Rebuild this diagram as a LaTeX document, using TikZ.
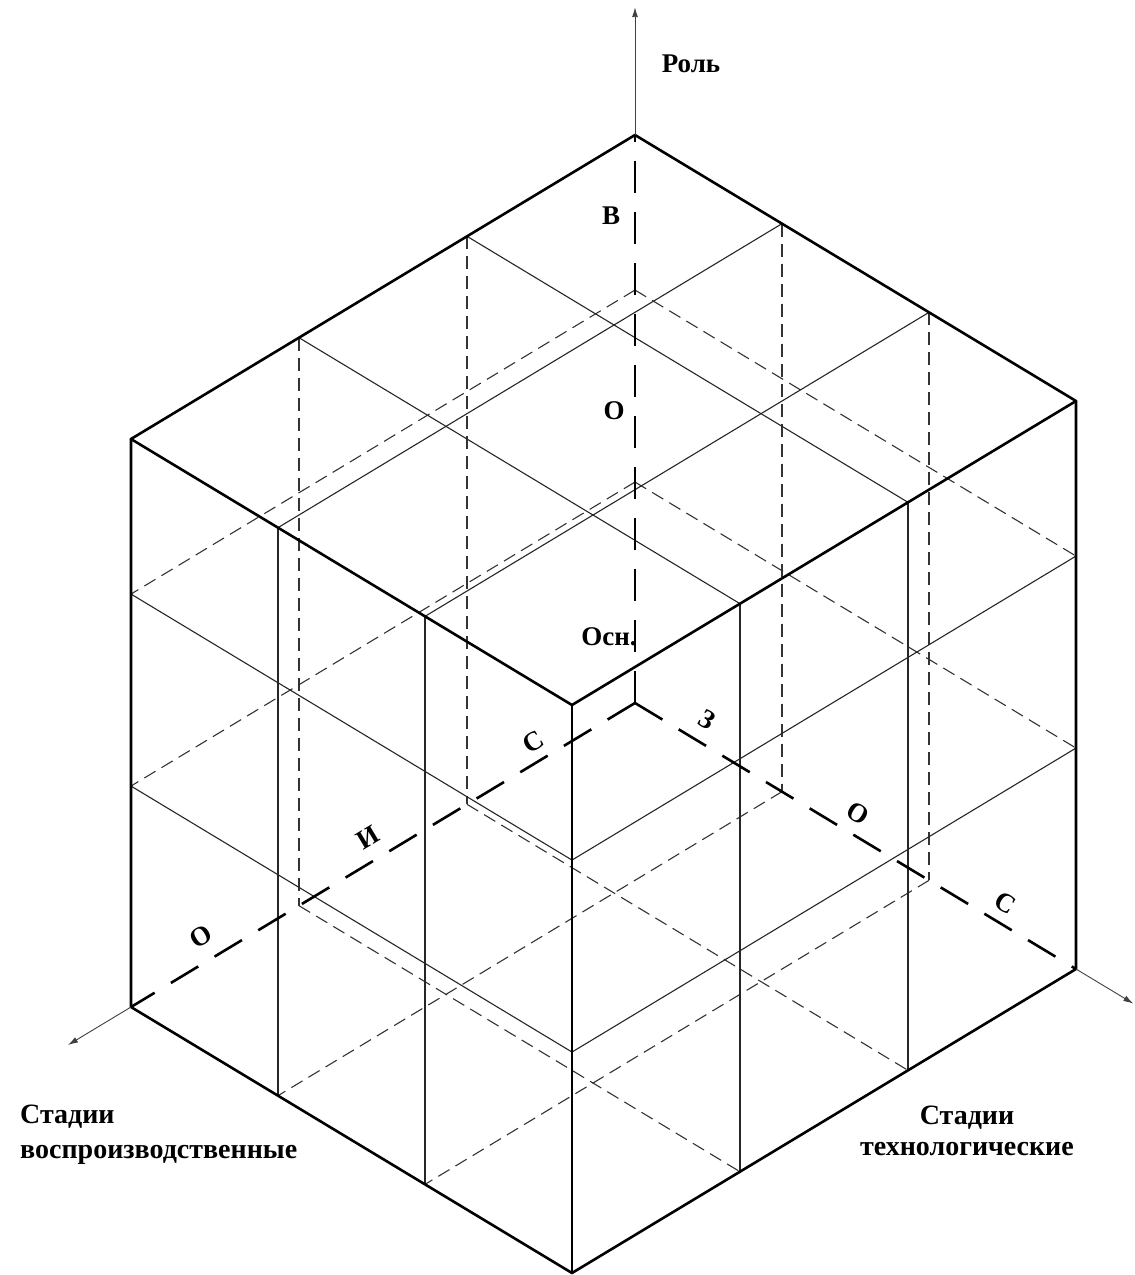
\documentclass[tikz,border=0pt]{standalone}
\usepackage{fontspec}
\setmainfont{Liberation Serif}
\usetikzlibrary{arrows.meta,calc}
\begin{document}
\begin{tikzpicture}[x=1pt,y=1pt,
  edge/.style={line width=2.6pt, line cap=round, line join=round},
  gridline/.style={line width=1.1pt, black!85},
  hidline/.style={line width=1.1pt, black!80, dash pattern=on 13pt off 7pt},
  axisdash/.style={line width=2.6pt, dash pattern=on 32pt off 19pt},
  axisext/.style={line width=0.9pt, black!75, -{Latex[length=10pt,width=6pt]}},
  lab/.style={font=\bfseries\fontsize{27}{30}\selectfont, inner sep=0pt},
  caption/.style={font=\bfseries\fontsize{28}{31}\selectfont, inner sep=0pt},
]
\useasboundingbox (0,-1275) rectangle (1135,0);
\def\ra{0.389}
\def\rb{0.727}
\begin{scope}[shift={(635pt,-703pt)}, x={(-504pt,-304pt)}, y={(441pt,-266pt)}, z={(0pt,568pt)}]
  \coordinate (O) at (0,0,0);
  \coordinate (T) at (0,0,1);
  \coordinate (L) at (1,0,0);
  \coordinate (R) at (0,1,0);
  \coordinate (F) at (1,1,0);
  \coordinate (LT) at (1,0,1);
  \coordinate (RT) at (0,1,1);
  \coordinate (FT) at (1,1,1);
  \coordinate (Tend) at (0,0,1.225);
  \coordinate (Lend) at (1.125,0,0);
  \coordinate (Rend) at (0,1.13,0);
  % hidden grid lines (back and bottom faces)
  \foreach \s in {0.3333,0.6667} {
    \draw[hidline] (\s,0,1) -- (\s,0,0);
    \draw[hidline] (\s,0,0) -- (\s,1,0);
    \draw[hidline] (0,\s,1) -- (0,\s,0);
    \draw[hidline] (0,\s,0) -- (1,\s,0);
  }
  \foreach \r in {\ra,\rb} {
    \draw[hidline] (0,0,\r) -- (1,0,\r);
    \draw[hidline] (0,0,\r) -- (0,1,\r);
  }
  % visible grid lines
  \foreach \s in {0.3333,0.6667} {
    \draw[gridline] (\s,0,1) -- (\s,1,1);
    \draw[gridline] (0,\s,1) -- (1,\s,1);
    \draw[gridline] (1,\s,0) -- (1,\s,1);
    \draw[gridline] (\s,1,0) -- (\s,1,1);
  }
  \foreach \r in {\ra,\rb} {
    \draw[gridline] (1,0,\r) -- (1,1,\r);
    \draw[gridline] (0,1,\r) -- (1,1,\r);
  }
  % cube edges
  \draw[edge] (T) -- (LT) -- (FT) -- (RT) -- cycle;
  \draw[edge] (LT) -- (L) -- (F) -- (R) -- (RT);
  \draw[edge] (FT) -- (F);
  % axes
  \draw[axisdash] (O) -- (T);
  \draw[axisdash] (O) -- (L);
  \draw[axisdash] (O) -- (R);
  \draw[axisext] (T) -- (Tend);
  \draw[axisext] (L) -- (Lend);
  \draw[axisext] (R) -- (Rend);
\end{scope}
% labels
\node[lab] (role) at (691,-64) {Роль};
\node[lab] (lv) at (611,-216) {В};
\node[lab] (lo) at (614,-411) {О};
\node[lab] (losn) at (609,-637) {Осн.};
\node[lab, rotate=31] (ls) at (533,-742) {С};
\node[lab, rotate=31] (li) at (368,-838) {И};
\node[lab, rotate=31] (lo2) at (201,-937) {О};
\node[lab, rotate=-31] (rz) at (707,-720) {З};
\node[lab, rotate=-31] (ro) at (858,-813) {О};
\node[lab, rotate=-31] (rs) at (1005,-903) {С};
\node[caption, anchor=base west] (st1) at (20,-1123) {Стадии};
\node[caption, anchor=base west] (st2) at (20,-1158) {воспроизводственные};
\node[caption, anchor=base] (st3) at (967,-1124) {Стадии};
\node[caption, anchor=base] (st4) at (967,-1155) {технологические};
\end{tikzpicture}
\end{document}
